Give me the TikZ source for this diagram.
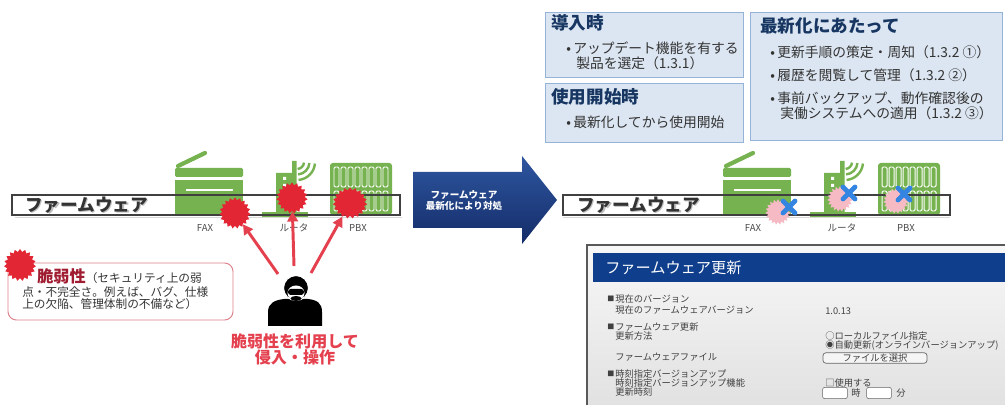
\documentclass[tikz,border=0pt]{standalone}
\usepackage{fontspec}
\setmainfont{Noto Sans CJK JP}
\usepackage{tikz}
\usetikzlibrary{shapes.symbols}
\usetikzlibrary{arrows.meta}
\definecolor{devgreen}{RGB}{118,178,80}
\definecolor{hitred}{RGB}{226,38,52}
\definecolor{atkred}{RGB}{228,64,78}
\definecolor{vulnred}{RGB}{160,28,48}
\definecolor{vulnline}{RGB}{222,130,140}
\definecolor{fixpink}{RGB}{246,186,196}
\definecolor{fixblue}{RGB}{52,132,226}
\definecolor{boxfill}{RGB}{220,230,242}
\definecolor{boxline}{RGB}{149,179,215}
\definecolor{navytext}{RGB}{23,54,98}
\definecolor{arrowtop}{RGB}{46,86,160}
\definecolor{arrowbot}{RGB}{20,44,104}
\definecolor{hdrblue}{RGB}{14,62,140}
\definecolor{inktext}{RGB}{51,51,51}
\newcommand\fsz[1]{\fontsize{#1}{#1}\selectfont}

\begin{document}
\begin{tikzpicture}[x=0.025cm, y=-0.025cm,
  title/.style={inner sep=0pt, anchor=west, text=navytext, font=\bfseries\fsz{12.5}},
  item/.style={inner sep=0pt, anchor=west, text=inktext, font=\fsz{9.8}},
  infobox/.style={fill=boxfill, draw=boxline, line width=0.6pt},
  fwbar/.style={draw=black!75, line width=0.9pt},
  fwtext/.style={inner sep=0pt, anchor=west, font=\bfseries\fsz{12.5}},
  devlabel/.style={inner sep=0pt, text=black!70, font=\fsz{6.8}},
  hit/.style={starburst, starburst points=19, starburst point height=2pt,
    random starburst=0, fill=hitred, inner sep=0pt, minimum size=0.78cm},
  fixed/.style={hit, fill=fixpink, minimum size=0.64cm},
  atk/.style={atkred, line width=2.1pt, -{Triangle[length=7pt, width=7.5pt]}},
  cross/.style={fixblue, line width=3.4pt, line cap=round},
  panel/.style={inner sep=0pt, anchor=west, text=black!75, font=\fsz{6.6}}]
\clip (0,0) rectangle (1005,405);
\fill[white] (0,0) rectangle (1005,405);

% info boxes, top right
\path[infobox] (545,12) rectangle (743,77);
\path[infobox] (545,83) rectangle (743,142);
\path[infobox] (750,12) rectangle (1002,140);
\node[title] (t-intro) at (551,23) {導入時};
\node[item] (i-intro1) at (566,48) {•\,アップデート機能を有する};
\node[item] (i-intro2) at (576,63) {製品を選定（1.3.1）};
\node[title] (t-start) at (551,97) {使用開始時};
\node[item] (i-start) at (566,122) {•\,最新化してから使用開始};
\node[title] (t-update) at (760,26) {最新化にあたって};
\node[item] (i-upd1) at (770,52) {•\,更新手順の策定・周知（1.3.2 ①）};
\node[item] (i-upd2) at (770,75) {•\,履歴を閲覧して管理（1.3.2 ②）};
\node[item] (i-upd3) at (770,98) {•\,事前バックアップ、動作確認後の};
\node[item] (i-upd4) at (780,113) {実働システムへの適用（1.3.2 ③）};

% devices (before / after)
\foreach \dx/\sd in {0/l,548/r} {
  \begin{scope}[shift={(\dx,0)}]
    % fax
    \draw[devgreen, line width=3pt, line cap=round] (178,166) -- (205,153);
    \fill[devgreen, rounded corners=1] (175,168) rectangle (243,177);
    \fill[devgreen] (175,180) rectangle (243,216);
    \draw[white, line width=1.1pt] (186,190) -- (233,190);
    % router
    \fill[devgreen] (276,173) -- (292,173) -- (292,161) -- (296.5,161)
      -- (296.5,213) -- (276,213) -- cycle;
    \fill[white] (283,177) rectangle (286,180) (283,184) rectangle (286,187);
    \fill[devgreen] (262,212) rectangle (308,217);
    \foreach \r in {7,12.5,18}
      \draw[devgreen, line width=1.7pt] ([shift={(5:\r)}]297,162) arc (5:85:\r);
    % pbx
    \fill[devgreen, rounded corners=2] (330,163) rectangle (392,215);
    \foreach \i in {0,...,7} {
      \draw[white, line width=0.7pt, rounded corners=1]
        (334+\i*7,167) rectangle (339+\i*7,187);
      \draw[white, line width=0.7pt, rounded corners=1]
        (334+\i*7,191) rectangle (339+\i*7,211);
    }
    % shadow under the firmware bar
    \draw[black!25, line width=1.2pt, opacity=0.6] (15,217.5) -- (402,217.5);
    \node[devlabel] (fax-\sd) at (205,228) {FAX};
    \node[devlabel] (rtr-\sd) at (294,228) {ルータ};
    \node[devlabel] (pbx-\sd) at (358,228) {PBX};
  \end{scope}
}
\draw[fwbar] (12,195) rectangle (400,215);
\draw[fwbar] (563,195) rectangle (950,215);
\node[fwtext, text=black!25] at (26.5,206.5) {ファームウェア};
\node[fwtext, text=black!80] (fw-l) at (25,205) {ファームウェア};
\node[fwtext, text=black!25] at (578.5,206.5) {ファームウェア};
\node[fwtext, text=black!80] (fw-r) at (577,205) {ファームウェア};

% vulnerabilities
\node[hit] (hitfax) at (235,213) {};
\node[hit] (hitrtr) at (292,198) {};
\node[hit, minimum width=0.86cm] (hitpbx) at (350,203) {};

% fixed
\node[fixed] (fixfax) at (778,212) {};
\node[fixed] (fixrtr) at (840,199) {};
\node[fixed] (fixpbx) at (896,201) {};
\foreach \c in {(789,207),(849,193),(904,194)} {
  \draw[cross] \c ++(-6,-6) -- ++(12,12);
  \draw[cross] \c ++(-6,6) -- ++(12,-12);
}

% attacker
\fill[black] (268,326) -- (268,312) .. controls (268,303) and (275,300) .. (284,299)
  -- (308,299) .. controls (317,300) and (322,303) .. (322,312) -- (322,326) -- cycle;
\filldraw[black, draw=white, line width=0.8pt] (296,288) circle (12.5);
\fill[white] (296,293) ellipse (8.5 and 7.5);
\fill[black, rounded corners=2] (288,289) rectangle (304,295);
\fill[black] (296,298.5) ellipse (5.5 and 2.5);
\coordinate (hk1) at (278,274);
\coordinate (hk2) at (294,266);
\coordinate (hk3) at (311,273);
\draw[atk] (hk1) -- (hitfax);
\draw[atk] (hk2) -- (hitrtr);
\draw[atk] (hk3) -- (hitpbx);
\node[inner sep=0pt, text=atkred, font=\bfseries\fsz{11.4}, align=center] (atk-txt) at (295,349)
  {脆弱性を利用して\\[0pt]侵入・操作};

% vulnerability note
\draw[vulnline, line width=0.7pt, rounded corners=6] (8,263) rectangle (233,320);
\node[hit, minimum size=0.8cm] (hitnote) at (20,265) {};
\node[inner sep=0pt, anchor=base west, text=inktext] (v1) at (37,283)
  {{\bfseries\fsz{11.5}\color{vulnred}脆弱性}{\fsz{8.3}（セキュリティ上の弱}};
\node[inner sep=0pt, anchor=base west, text=inktext, font=\fsz{8.3}] (v2) at (22,297)
  {点・不完全さ。例えば、バグ、仕様};
\node[inner sep=0pt, anchor=base west, text=inktext, font=\fsz{8.3}] (v3) at (22,309)
  {上の欠陥、管理体制の不備など）};

% update arrow
\shade[top color=arrowtop, bottom color=arrowbot]
  (413,172) -- (522,172) -- (522,156) -- (557,200) -- (522,244) -- (522,228)
  -- (413,228) -- cycle;
\node[inner sep=0pt, text=white, font=\bfseries\fsz{6.8}, align=center] (fix-txt) at (464,201)
  {ファームウェア\\[1pt]最新化により対処};

% settings panel
\draw[top color=gray!6, bottom color=gray!24, draw=black!65, line width=0.8pt]
  (587,245) rectangle (1012,412);
\fill[hdrblue] (593,253) rectangle (1012,282);
\node[inner sep=0pt, anchor=west, text=white, font=\fsz{10.8}] (p-head) at (605,268) {ファームウェア更新};
\node[panel, font=\fsz{5}] (b1) at (607,299) {■};
\node[panel] (p1) at (615,299) {現在のバージョン};
\node[panel] (p2) at (615,310) {現在のファームウェアバージョン};
\node[panel] (p3) at (825,311) {1.0.13};
\node[panel, font=\fsz{5}] (b2) at (607,327) {■};
\node[panel] (p4) at (615,327) {ファームウェア更新};
\node[panel] (p5) at (615,336) {更新方法};
\node[panel] (p6) at (825,336) {○ローカルファイル指定};
\node[panel] (p7) at (825,346) {◉自動更新(オンラインバージョンアップ)};
\node[panel] (p8) at (615,357) {ファームウェアファイル};
\node[draw=black!60, fill=gray!8, rounded corners=2, line width=0.5pt, minimum width=2.6cm,
  minimum height=0.26cm, inner sep=0pt, text=black!75, font=\fsz{6.6}] (p-btn) at (875,358) {ファイルを選択};
\node[panel, font=\fsz{5}] (b3) at (607,374) {■};
\node[panel] (p9) at (615,374) {時刻指定バージョンアップ};
\node[panel] (p10) at (615,383) {時刻指定バージョンアップ機能};
\node[panel] (p11) at (825,383) {□使用する};
\node[panel] (p12) at (615,392) {更新時刻};
\node[draw=black!60, fill=white, rounded corners=1.5, minimum width=0.62cm, minimum height=0.28cm,
  inner sep=0pt] (p-hour) at (835,393) {};
\node[panel] (p13) at (851,393) {時};
\node[draw=black!60, fill=white, rounded corners=1.5, minimum width=0.62cm, minimum height=0.28cm,
  inner sep=0pt] (p-min) at (879,393) {};
\node[panel] (p14) at (896,393) {分};
\end{tikzpicture}
\end{document}
